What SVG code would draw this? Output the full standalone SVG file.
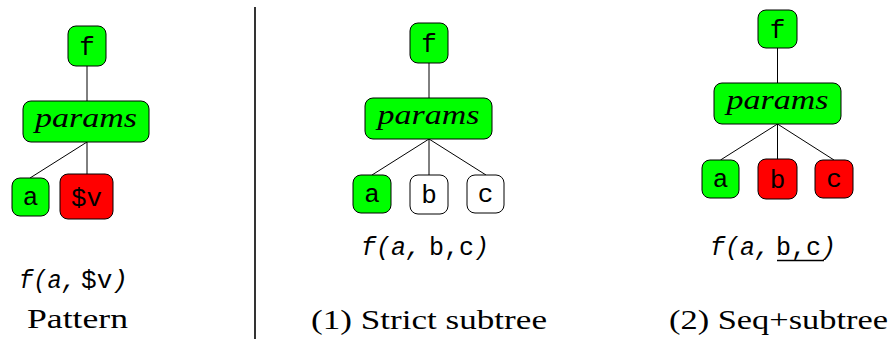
<svg xmlns="http://www.w3.org/2000/svg" width="891" height="339" viewBox="0 0 891 339">
  <style>
    .node { stroke: #000; stroke-width: 1; }
    .green { fill: #00ff00; }
    .red { fill: #ff0000; }
    .white { fill: #ffffff; }
    .edge { stroke: #000; stroke-width: 1; fill: none; }
    .tt { font-family: "Liberation Mono", "DejaVu Sans Mono", monospace; font-size: 26px; fill: #000; text-anchor: middle; }
    .mi { font-family: "Liberation Serif", "DejaVu Serif", serif; font-style: italic; font-size: 27px; fill: #000; text-anchor: middle; }
    .code { font-family: "Liberation Mono", "DejaVu Sans Mono", monospace; font-size: 25px; fill: #000; }
    .it { font-style: italic; }
    .caption { font-family: "Liberation Serif", "DejaVu Serif", serif; font-size: 27px; fill: #000; }
  </style>

  <!-- separator between the pattern and the match examples -->
  <line x1="255" y1="7" x2="255" y2="339" stroke="#000" stroke-width="1.6"/>

  <!-- connectors -->
  <g id="edges">
    <line class="edge" x1="87" y1="66" x2="87" y2="101"/>
    <line class="edge" x1="87" y1="142" x2="30" y2="178"/>
    <line class="edge" x1="87" y1="142" x2="87" y2="174"/>

    <line class="edge" x1="429" y1="63" x2="429" y2="98"/>
    <line class="edge" x1="429" y1="139" x2="372" y2="175"/>
    <line class="edge" x1="429" y1="139" x2="429" y2="175"/>
    <line class="edge" x1="429" y1="139" x2="486" y2="175"/>

    <line class="edge" x1="777.5" y1="48" x2="777.5" y2="83"/>
    <line class="edge" x1="777.5" y1="124" x2="720.5" y2="160"/>
    <line class="edge" x1="777.5" y1="124" x2="777.5" y2="159"/>
    <line class="edge" x1="777.5" y1="124" x2="834" y2="160"/>
  </g>

  <!-- pattern tree -->
  <g id="p-f">
    <rect class="node green" x="68" y="26" width="38" height="40" rx="8"/>
    <text class="tt" x="87" y="55">f</text>
  </g>
  <g id="p-params">
    <rect class="node green" x="23" y="101" width="126" height="41" rx="8"/>
    <text class="mi" x="86" y="127" textLength="102" lengthAdjust="spacingAndGlyphs">params</text>
  </g>
  <g id="p-a">
    <rect class="node green" x="12" y="178" width="37" height="38" rx="8"/>
    <text class="tt" x="30.5" y="205">a</text>
  </g>
  <g id="p-v">
    <rect class="node red" x="60" y="174" width="53" height="45" rx="8"/>
    <text class="tt" x="86.5" y="206" textLength="31" lengthAdjust="spacingAndGlyphs">$v</text>
  </g>

  <!-- strict subtree example -->
  <g id="s-f">
    <rect class="node green" x="410" y="23" width="38" height="40" rx="8"/>
    <text class="tt" x="429" y="52">f</text>
  </g>
  <g id="s-params">
    <rect class="node green" x="365" y="98" width="127" height="41" rx="8"/>
    <text class="mi" x="428.5" y="124" textLength="102" lengthAdjust="spacingAndGlyphs">params</text>
  </g>
  <g id="s-a">
    <rect class="node green" x="353" y="175" width="38" height="38" rx="8"/>
    <text class="tt" x="372" y="202">a</text>
  </g>
  <g id="s-b">
    <rect class="node white" x="410" y="175" width="38" height="39" rx="8"/>
    <text class="tt" x="429" y="203">b</text>
  </g>
  <g id="s-c">
    <rect class="node white" x="467" y="175" width="37" height="38" rx="8"/>
    <text class="tt" x="485.5" y="202">c</text>
  </g>

  <!-- sequence + subtree example -->
  <g id="q-f">
    <rect class="node green" x="758" y="10" width="39" height="38" rx="8"/>
    <text class="tt" x="777.5" y="38">f</text>
  </g>
  <g id="q-params">
    <rect class="node green" x="714" y="83" width="127" height="41" rx="8"/>
    <text class="mi" x="777.5" y="109" textLength="102" lengthAdjust="spacingAndGlyphs">params</text>
  </g>
  <g id="q-a">
    <rect class="node green" x="702" y="160" width="37" height="38" rx="8"/>
    <text class="tt" x="720.5" y="187">a</text>
  </g>
  <g id="q-b">
    <rect class="node red" x="758" y="159" width="39" height="40" rx="8"/>
    <text class="tt" x="777.5" y="188">b</text>
  </g>
  <g id="q-c">
    <rect class="node red" x="815" y="160" width="38" height="38" rx="8"/>
    <text class="tt" x="834" y="187">c</text>
  </g>

  <!-- term notation and captions -->
  <g id="labels">
    <text class="code it" x="19" y="288" textLength="57" lengthAdjust="spacingAndGlyphs">f(a,</text>
    <text class="code" x="81" y="288" textLength="47" lengthAdjust="spacingAndGlyphs">$v<tspan class="it">)</tspan></text>
    <text class="caption" x="27" y="328" textLength="101" lengthAdjust="spacingAndGlyphs">Pattern</text>

    <text class="code it" x="361" y="255" textLength="60" lengthAdjust="spacingAndGlyphs">f(a,</text>
    <text class="code" x="429" y="255" textLength="60" lengthAdjust="spacingAndGlyphs">b,c<tspan class="it">)</tspan></text>
    <text class="caption" x="311" y="329" textLength="236" lengthAdjust="spacingAndGlyphs">(1) Strict subtree</text>

    <text class="code it" x="710" y="255" textLength="60" lengthAdjust="spacingAndGlyphs">f(a,</text>
    <text class="code" x="776" y="255" textLength="60" lengthAdjust="spacingAndGlyphs">b,c<tspan class="it">)</tspan></text>
    <line x1="777" y1="260.5" x2="824" y2="260.5" stroke="#000" stroke-width="1.6"/>
    <text class="caption" x="669" y="329" textLength="219" lengthAdjust="spacingAndGlyphs">(2) Seq+subtree</text>
  </g>
</svg>
